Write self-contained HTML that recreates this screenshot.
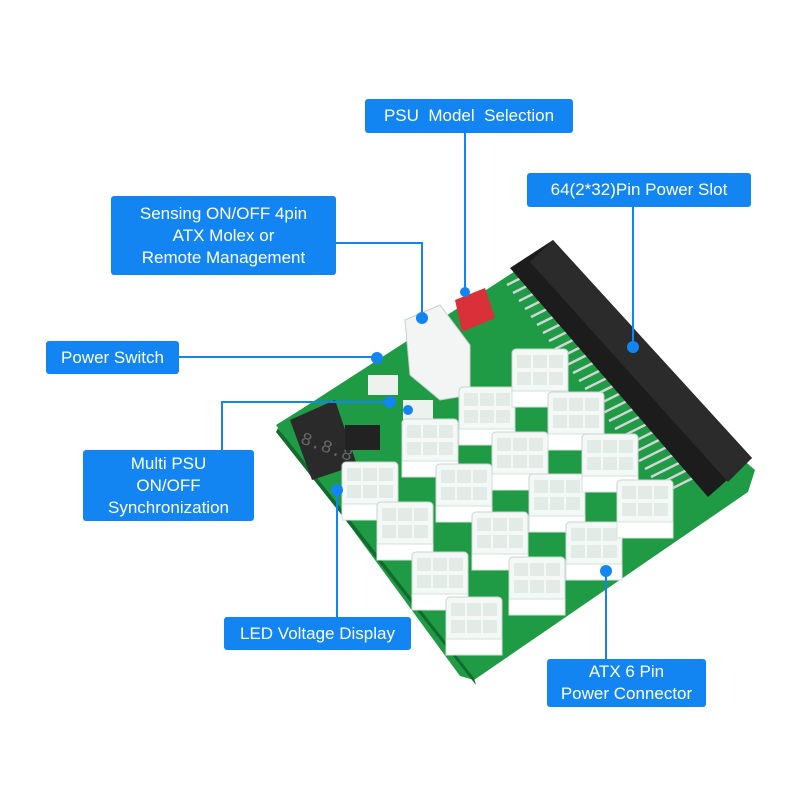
<!DOCTYPE html><html><head><meta charset="utf-8"><style>
body{margin:0;background:#fff;width:800px;height:800px;overflow:hidden;position:relative;font-family:"Liberation Sans",sans-serif}
.b{position:absolute;background:#1385f2;color:#fff;border-radius:3px;text-align:center;font-size:17px;line-height:22px;display:flex;align-items:center;justify-content:center;flex-direction:column}
svg{position:absolute;left:0;top:0}
</style></head><body>
<svg width="800" height="800" viewBox="0 0 800 800">
<defs><g id="c"><rect x="-28" y="-28" width="56" height="58" rx="4" fill="#f4f8f6" stroke="#c9d6d0"/><rect x="-23" y="-22" width="14" height="13" fill="#e3ebe7"/><rect x="-7" y="-22" width="14" height="13" fill="#e3ebe7"/><rect x="9" y="-22" width="14" height="13" fill="#e3ebe7"/><rect x="-23" y="-5" width="14" height="13" fill="#e3ebe7"/><rect x="-7" y="-5" width="14" height="13" fill="#e3ebe7"/><rect x="9" y="-5" width="14" height="13" fill="#e3ebe7"/><rect x="-28" y="14" width="56" height="16" fill="#fff" stroke="#d5e0db"/></g></defs>
<polygon points="276,425 300,410 520,268 755,470 748,492 474,680 460,676" fill="#1f9a45"/>
<polygon points="278,428 474,678 476,685 276,432" fill="#126b2d"/>
<g stroke="#d0d5d3" stroke-width="2.5">
<line x1="507" y1="285" x2="537" y2="270"/><line x1="513" y1="293" x2="543" y2="278"/><line x1="519" y1="301" x2="549" y2="286"/><line x1="525" y1="309" x2="555" y2="294"/><line x1="531" y1="317" x2="561" y2="302"/><line x1="537" y1="325" x2="567" y2="310"/><line x1="543" y1="333" x2="573" y2="318"/><line x1="549" y1="341" x2="579" y2="326"/><line x1="555" y1="349" x2="585" y2="334"/><line x1="561" y1="357" x2="591" y2="342"/><line x1="567" y1="365" x2="597" y2="350"/><line x1="573" y1="373" x2="603" y2="358"/><line x1="579" y1="381" x2="609" y2="366"/><line x1="585" y1="389" x2="615" y2="374"/><line x1="591" y1="397" x2="621" y2="382"/><line x1="597" y1="405" x2="627" y2="390"/><line x1="603" y1="413" x2="633" y2="398"/><line x1="609" y1="421" x2="639" y2="406"/><line x1="615" y1="429" x2="645" y2="414"/><line x1="621" y1="437" x2="651" y2="422"/><line x1="627" y1="445" x2="657" y2="430"/><line x1="633" y1="453" x2="663" y2="438"/><line x1="639" y1="461" x2="669" y2="446"/><line x1="645" y1="469" x2="675" y2="454"/><line x1="651" y1="477" x2="681" y2="462"/><line x1="657" y1="485" x2="687" y2="470"/><line x1="663" y1="493" x2="693" y2="478"/>
</g>
<polygon points="510,268 553,240 752,458 708,497" fill="#1c1c1c"/>
<polygon points="530,262 553,240 752,458 728,482" fill="#2b2b2b"/>
<polygon points="455,300 485,288 495,318 462,332" fill="#d9303a"/>
<polygon points="405,320 440,305 470,345 470,395 440,400 410,375" fill="#f2f5f3" stroke="#c7d0cb"/>
<polygon points="290,420 335,400 357,465 312,480" fill="#2a2a2a"/>
<text x="300" y="450" fill="#666" font-size="18" font-family="Liberation Mono" transform="rotate(20 320 445)">8.8.8</text>
<rect x="345" y="425" width="35" height="25" fill="#222"/>
<rect x="368" y="375" width="30" height="20" fill="#eef2ef"/>
<rect x="403" y="400" width="30" height="20" fill="#eef2ef"/>
<use href="#c" x="370" y="490"/><use href="#c" x="405" y="530"/><use href="#c" x="440" y="580"/><use href="#c" x="474" y="625"/>
<use href="#c" x="430" y="447"/><use href="#c" x="464" y="492"/><use href="#c" x="500" y="540"/><use href="#c" x="537" y="585"/>
<use href="#c" x="487" y="415"/><use href="#c" x="520" y="460"/><use href="#c" x="557" y="502"/><use href="#c" x="594" y="550"/>
<use href="#c" x="540" y="377"/><use href="#c" x="576" y="420"/><use href="#c" x="610" y="462"/><use href="#c" x="645" y="508"/>
<g stroke="#1385f2" stroke-width="2" fill="none">
<polyline points="465,133 465,290"/>
<polyline points="633,207 633,347"/>
<polyline points="336,243 422,243 422,317"/>
<polyline points="179,357 377,357"/>
<polyline points="222,450 222,402 390,402"/>
<polyline points="337,617 337,490"/>
<polyline points="606,659 606,573"/>
</g>
<g fill="#1385f2"><circle cx="465" cy="292" r="5"/><circle cx="633" cy="347" r="6"/><circle cx="422" cy="318" r="6"/><circle cx="377" cy="358" r="6"/><circle cx="390" cy="402" r="6"/><circle cx="408" cy="410" r="5"/><circle cx="337" cy="490" r="6"/><circle cx="606" cy="571" r="6"/></g>
</svg>
<div class="b" style="left:365px;top:99px;width:208px;height:34px">PSU&nbsp; Model&nbsp; Selection</div>
<div class="b" style="left:527px;top:173px;width:224px;height:34px">64(2*32)Pin Power Slot</div>
<div class="b" style="left:111px;top:196px;width:225px;height:79px">Sensing ON/OFF 4pin<br>ATX Molex or<br>Remote Management</div>
<div class="b" style="left:46px;top:341px;width:133px;height:33px">Power Switch</div>
<div class="b" style="left:83px;top:450px;width:171px;height:71px">Multi PSU<br>ON/OFF<br>Synchronization</div>
<div class="b" style="left:224px;top:617px;width:187px;height:33px">LED Voltage Display</div>
<div class="b" style="left:547px;top:659px;width:159px;height:48px">ATX 6 Pin<br>Power Connector</div>
</body></html>
